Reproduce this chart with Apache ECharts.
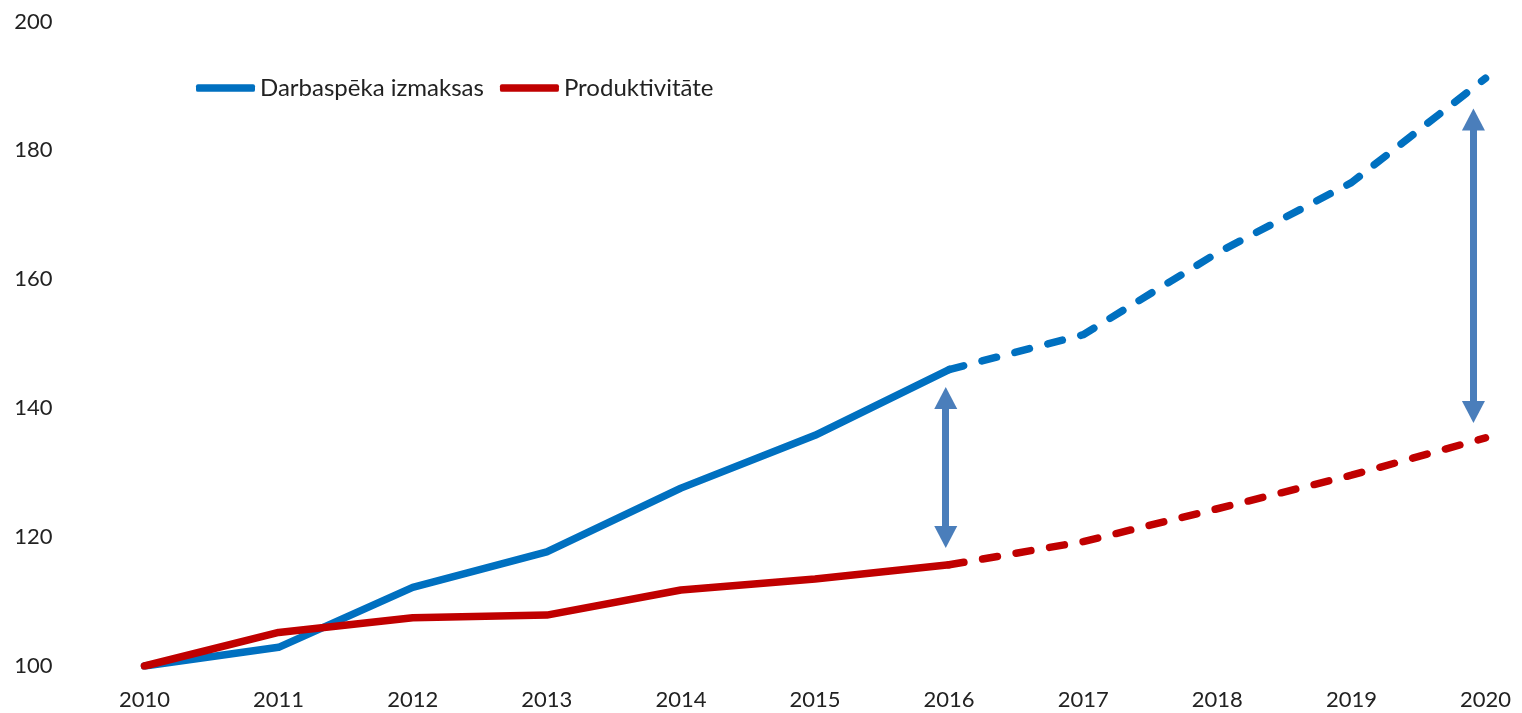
<!DOCTYPE html>
<html>
<head>
<meta charset="utf-8">
<script src="https://cdn.jsdelivr.net/npm/echarts@6/dist/echarts.min.js"></script>
<style>
  html, body { margin: 0; padding: 0; background: #ffffff; }
  #chart { width: 1522px; height: 713px; }
</style>
</head>
<body>
<div id="chart"></div>
<script>
// ---- data ----
const years = [2010, 2011, 2012, 2013, 2014, 2015, 2016, 2017, 2018, 2019, 2020];
const yTicks = [100, 120, 140, 160, 180, 200];
const seriesNames = ['Darbaspēka izmaksas', 'Produktivitāte'];
const labourCost = [100, 102.9, 112.2, 117.7, 127.6, 135.8, 146.0, 151.4, 164.1, 175.0, 191.2];
const productivity = [100, 105.2, 107.5, 107.9, 111.8, 113.5, 115.7, 119.3, 124.4, 129.6, 135.4];
const lastActualYear = 2016;
// gap annotations: [x, lower end, upper end]
const gapArrows = [
  [2015.975, 120.0, 141.6],
  [2019.91, 139.4, 184.8]
];

// ---- build ----
function pairs(vals, from, to) {
  const out = [];
  years.forEach((y, i) => { if (y >= from && y <= to) out.push([y, vals[i]]); });
  return out;
}
const blue = '#0070C0', red = '#C00000', arrowColor = '#4A7EBB';
const font = 'Lato, "Noto Sans", sans-serif';
const dash = [15, 19];

function lineSeries(name, color, data, dashed) {
  return {
    name: name, type: 'line', data: data, showSymbol: false, symbol: 'none',
    silent: true, animation: false,
    lineStyle: { color: color, width: 7.5, cap: 'round', join: 'round', type: dashed ? dash : 'solid' },
    itemStyle: { color: color }
  };
}

const s = [
  lineSeries(seriesNames[0], blue, pairs(labourCost, years[0], lastActualYear), false),
  lineSeries(seriesNames[1], red, pairs(productivity, years[0], lastActualYear), false),
  lineSeries(seriesNames[0], blue, pairs(labourCost, lastActualYear, years[years.length - 1]), true),
  lineSeries(seriesNames[1], red, pairs(productivity, lastActualYear, years[years.length - 1]), true)
];
s[3].markLine = {
  silent: true, animation: false,
  symbol: ['triangle', 'triangle'], symbolSize: [23, 22],
  label: { show: false },
  lineStyle: { color: arrowColor, width: 7, type: 'solid' },
  emphasis: { disabled: true },
  data: gapArrows.map(a => [{ coord: [a[0], a[1]] }, { coord: [a[0], a[2]] }])
};

const chart = echarts.init(document.getElementById('chart'), null, { renderer: 'canvas' });
chart.setOption({
  animation: false,
  backgroundColor: '#ffffff',
  textStyle: { fontFamily: font },
  grid: { left: 144.5, right: 36.5, top: 21.5, bottom: 47, containLabel: false },
  legend: {
    data: seriesNames.map(n => ({ name: n, icon: 'roundRect' })),
    left: 191, top: 71,
    itemWidth: 59, itemHeight: 7.5, itemGap: 16,
    selectedMode: false,
    textStyle: { fontFamily: font, fontSize: 24, color: '#222222' }
  },
  xAxis: {
    type: 'value', min: years[0], max: years[years.length - 1], interval: 1,
    axisLine: { show: false }, axisTick: { show: false }, splitLine: { show: false },
    axisLabel: {
      margin: 23, fontFamily: font, fontSize: 22, color: '#222222',
      formatter: v => years.includes(v) ? String(v) : ''
    }
  },
  yAxis: {
    type: 'value', min: yTicks[0], max: yTicks[yTicks.length - 1], interval: yTicks[1] - yTicks[0],
    axisLine: { show: false }, axisTick: { show: false }, splitLine: { show: false },
    axisLabel: { margin: 92, fontFamily: font, fontSize: 22, color: '#222222',
      formatter: v => yTicks.includes(v) ? String(v) : '' }
  },
  series: s
});
</script>
</body>
</html>
